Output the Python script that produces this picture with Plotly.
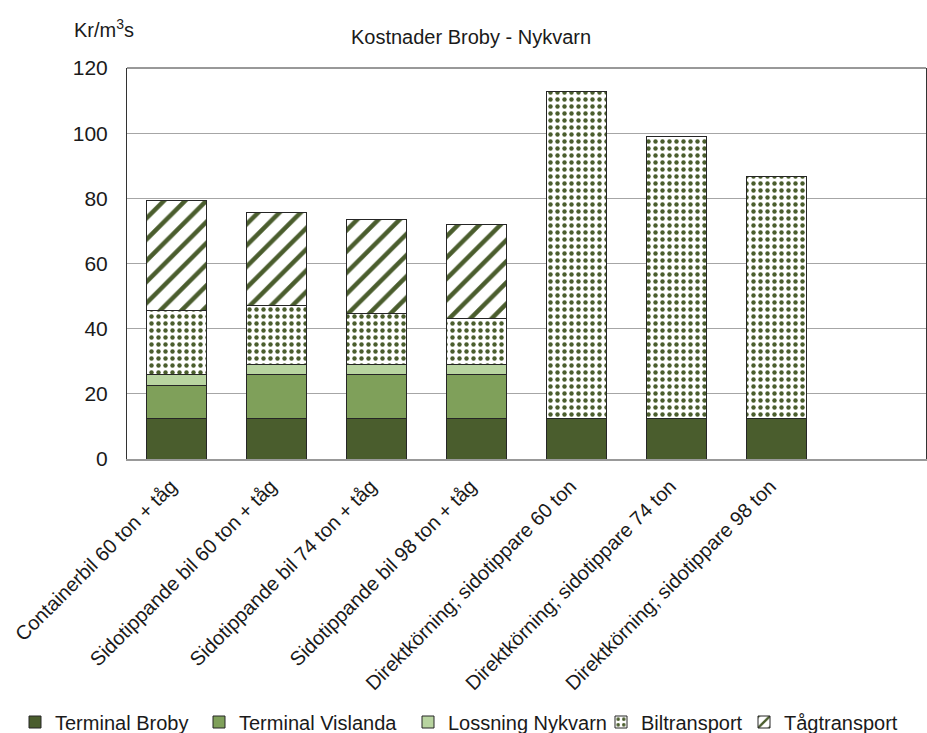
import plotly.graph_objects as go

# Kostnader per alternativ (kr/m3s), staplade per kostnadspost
categories = [
    "Containerbil 60 ton + tåg",
    "Sidotippande bil 60 ton + tåg",
    "Sidotippande bil 74 ton + tåg",
    "Sidotippande bil 98 ton + tåg",
    "Direktkörning; sidotippare 60 ton",
    "Direktkörning; sidotippare 74 ton",
    "Direktkörning; sidotippare 98 ton",
]
terminal_broby = [12.3, 12.3, 12.3, 12.3, 12.3, 12.3, 12.3]
terminal_vislanda = [10.2, 13.5, 13.5, 13.5, None, None, None]
lossning_nykvarn = [3.3, 3.2, 3.2, 3.2, None, None, None]
biltransport = [19.9, 18.0, 15.8, 14.0, 100.6, 86.8, 74.5]
tagtransport = [33.5, 28.8, 28.7, 29.1, None, None, None]

y_ticks = [0, 20, 40, 60, 80, 100, 120]

FONT = "Arial, Liberation Sans, sans-serif"
DARK = "#4a5d2d"
MID = "#7fa05a"
LIGHT = "#b8d4a0"
OUTLINE = dict(color="#262626", width=1)

fig = go.Figure()
fig.add_bar(name="Terminal Broby", x=categories, y=terminal_broby, legend="legend",
            marker=dict(color=DARK, line=OUTLINE))
fig.add_bar(name="Terminal Vislanda", x=categories, y=terminal_vislanda, legend="legend2",
            marker=dict(color=MID, line=OUTLINE))
fig.add_bar(name="Lossning Nykvarn", x=categories, y=lossning_nykvarn, legend="legend3",
            marker=dict(color=LIGHT, line=OUTLINE))
fig.add_bar(name="Biltransport", x=categories, y=biltransport, legend="legend4",
            marker=dict(color="white", line=OUTLINE,
                        pattern=dict(shape=".", fgcolor=DARK, bgcolor="white",
                                     size=7, solidity=0.32, fillmode="replace")))
fig.add_bar(name="Tågtransport", x=categories, y=tagtransport, legend="legend5",
            marker=dict(color="white", line=OUTLINE,
                        pattern=dict(shape="/", fgcolor=DARK, bgcolor="white",
                                     size=15, solidity=0.3, fillmode="replace")))


def legend_box(left_px):
    # one legend entry per box, laid out along the bottom of the page
    return dict(orientation="h", xref="container", yref="container",
                x=left_px / 927, xanchor="left", y=11 / 733, yanchor="middle",
                font=dict(family=FONT, size=20, color="#1a1a1a"),
                itemwidth=30, borderwidth=0, bgcolor="rgba(0,0,0,0)")


fig.update_layout(
    barmode="stack",
    bargap=0.4,
    width=927, height=733,
    margin=dict(l=127, r=1, t=68, b=274, autoexpand=False),
    paper_bgcolor="white", plot_bgcolor="white",
    font=dict(family=FONT, size=20, color="#1a1a1a"),
    showlegend=True,
    legend=legend_box(15),
    legend2=legend_box(199),
    legend3=legend_box(408),
    legend4=legend_box(601),
    legend5=legend_box(744),
    title=dict(text="Kostnader Broby - Nykvarn", xref="container", yref="container",
               x=471 / 927, xanchor="center", y=1 - 37 / 733, yanchor="middle",
               font=dict(family=FONT, size=20, color="#1a1a1a")),
    xaxis=dict(type="category", categoryorder="array", categoryarray=categories,
               range=[-0.5, 7.5], tickangle=-45, showgrid=False, automargin=False,
               showline=True, linecolor="#999999", linewidth=1.5,
               ticks="", tickfont=dict(size=20),
               ticklabelstandoff=6, ticklabelshift=-6),
    yaxis=dict(range=[0, 120], tickvals=y_ticks, showgrid=True, automargin=False,
               gridcolor="#a6a6a6", gridwidth=1.3, zeroline=False,
               showline=True, mirror=True, linecolor="#333333", linewidth=1,
               ticks="", ticklabelstandoff=14, tickfont=dict(size=21)),
    shapes=[dict(type="line", xref="x domain", yref="y domain",
                 x0=0, x1=1, y0=1, y1=1, line=dict(color="#333333", width=1))],
    annotations=[dict(text="Kr/m<sup>3</sup>s", xref="paper", yref="paper",
                      x=(72 - 127) / 799, xanchor="left",
                      y=(459 - 28) / 391, yanchor="middle",
                      showarrow=False, font=dict(family=FONT, size=20, color="#1a1a1a"))],
)

fig.write_html("out.html")
